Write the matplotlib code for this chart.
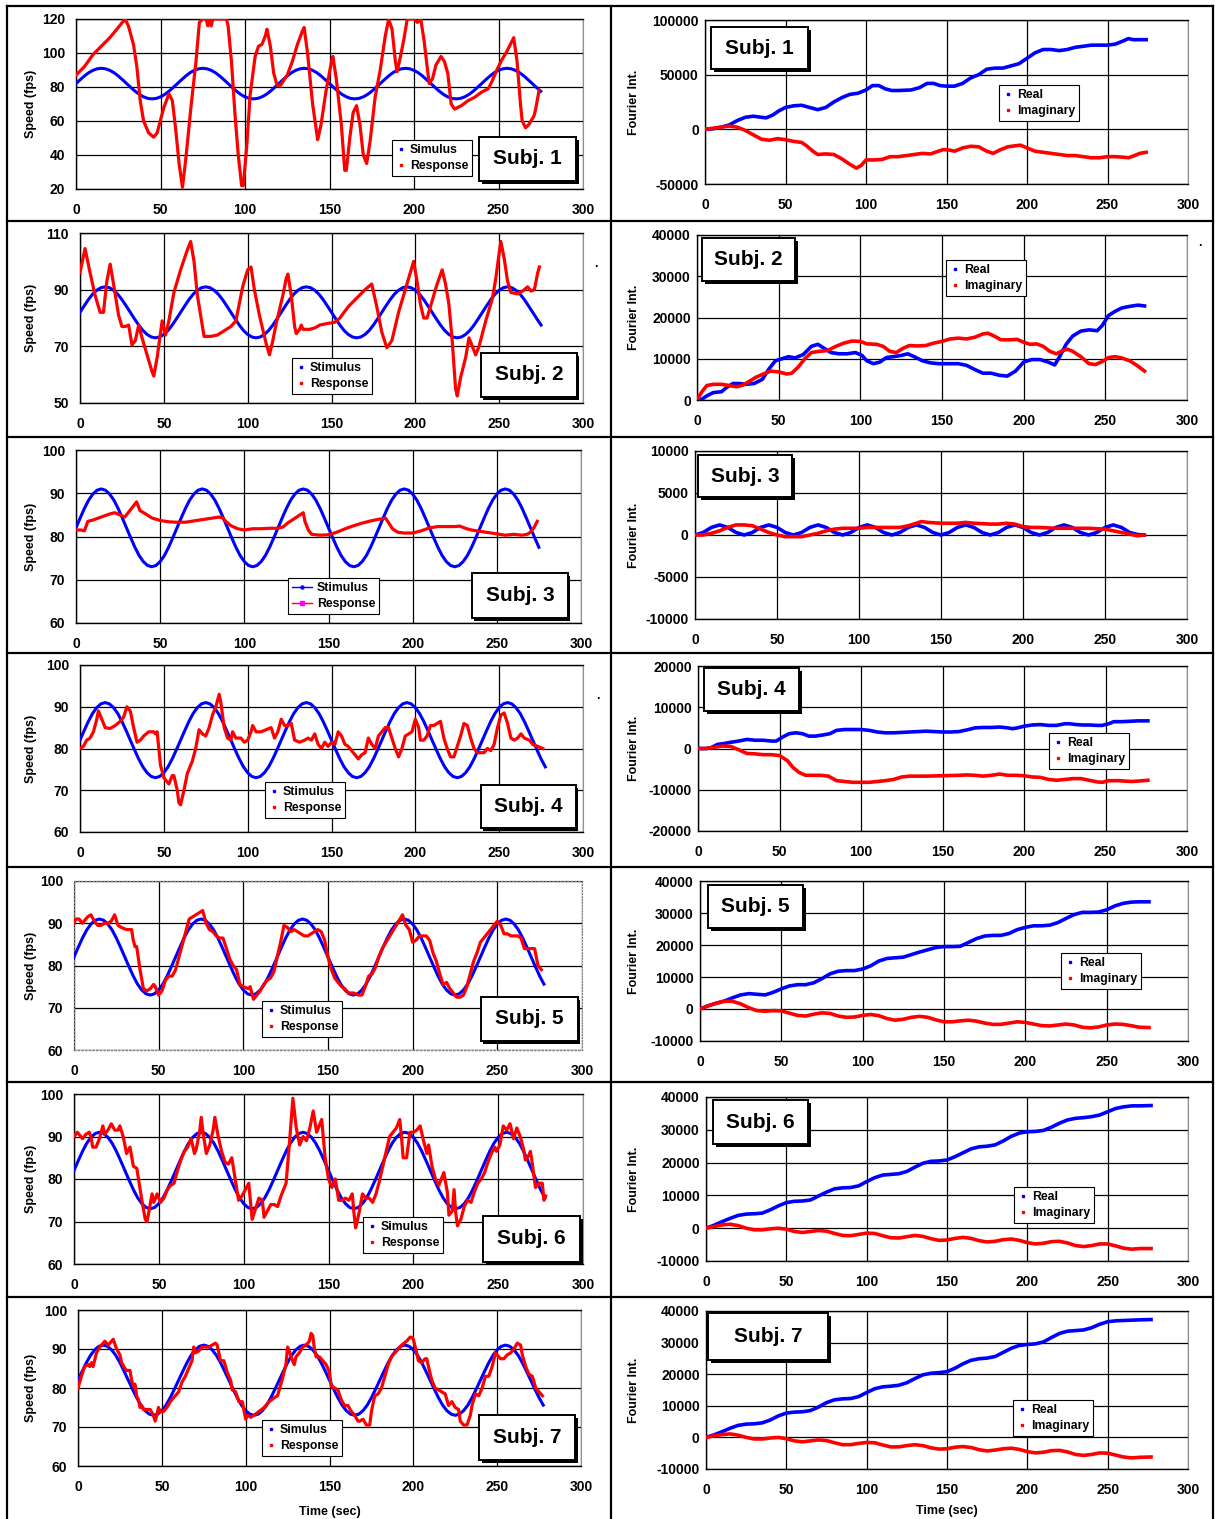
import matplotlib
matplotlib.use("Agg")
import matplotlib.pyplot as plt
from matplotlib.lines import Line2D
from matplotlib.patches import Rectangle

plt.rcParams['font.family'] = ['Liberation Sans', 'DejaVu Sans']
plt.rcParams['font.weight'] = 'bold'
plt.rcParams['axes.labelweight'] = 'bold'

W, H = 1215, 1519

# ---------------- data ----------------
# stimulus speed (fps), one sample every 2.5 s, same for every subject
STIM_T = [i * 2.5 for i in range(112)]
STIM_V = [
    82.0, 84.3, 86.5, 88.4, 89.8, 90.7, 91.0, 90.7, 89.8, 88.4, 86.5, 84.3,
    82.0, 79.7, 77.5, 75.6, 74.2, 73.3, 73.0, 73.3, 74.2, 75.6, 77.5, 79.7,
    82.0, 84.3, 86.5, 88.4, 89.8, 90.7, 91.0, 90.7, 89.8, 88.4, 86.5, 84.3,
    82.0, 79.7, 77.5, 75.6, 74.2, 73.3, 73.0, 73.3, 74.2, 75.6, 77.5, 79.7,
    82.0, 84.3, 86.5, 88.4, 89.8, 90.7, 91.0, 90.7, 89.8, 88.4, 86.5, 84.3,
    82.0, 79.7, 77.5, 75.6, 74.2, 73.3, 73.0, 73.3, 74.2, 75.6, 77.5, 79.7,
    82.0, 84.3, 86.5, 88.4, 89.8, 90.7, 91.0, 90.7, 89.8, 88.4, 86.5, 84.3,
    82.0, 79.7, 77.5, 75.6, 74.2, 73.3, 73.0, 73.3, 74.2, 75.6, 77.5, 79.7,
    82.0, 84.3, 86.5, 88.4, 89.8, 90.7, 91.0, 90.7, 89.8, 88.4, 86.5, 84.3,
    82.0, 79.7, 77.5, 75.6,
]
STIM_END = [275, 275, 275, 277.5, 277.5, 277.5, 277.5]

# subject responses (time, speed)
RESP_1 = [(0, 87), (5, 92), (10, 99), (15, 104), (20, 109), (25, 115), (29, 120), (31, 116), (34, 105),
          (36, 92), (38, 72), (40, 60), (43, 53), (46, 50.5), (48, 53), (52, 68), (55, 76), (57, 72),
          (59, 55), (61, 35), (63, 21), (65, 38), (68, 68), (71, 95), (73, 118), (75, 120), (77, 120),
          (78, 116), (79, 120), (80, 116), (81, 120), (84, 120), (89, 120), (90, 116), (92, 95), (94, 65),
          (96, 40), (98, 22), (99, 22), (101, 45), (103, 75), (106, 98), (108, 104), (110, 105), (112, 110),
          (113, 114), (115, 104), (117, 88), (119, 81), (121, 81), (125, 87), (128, 95), (131, 105),
          (134, 113), (135, 115), (137, 100), (140, 70), (143, 49), (145, 58), (148, 78), (151, 94),
          (152, 98), (154, 85), (157, 58), (159, 31), (160, 31), (162, 50), (164, 65), (166, 69), (168, 58),
          (170, 40), (172, 35), (174, 48), (177, 74), (180, 90), (183, 110), (185, 120), (187, 114),
          (189, 95), (190, 89), (192, 98), (194, 108), (196, 120), (200, 120), (202, 118), (204, 120),
          (206, 107), (208, 90), (209, 82), (211, 85), (213, 93), (216, 98), (218, 95), (220, 88), (222, 70),
          (224, 67), (228, 69), (232, 72), (236, 74), (240, 77), (244, 79), (246, 83), (249, 90), (252, 96),
          (255, 101), (258, 107), (259, 109), (261, 95), (263, 70), (264, 60), (266, 56), (268, 58),
          (271, 63), (272, 67), (274, 78)]
RESP_2 = [(0, 96), (3, 104.5), (6, 96), (9, 88), (12, 82), (14, 82), (16, 93), (18, 99), (20, 92), (23, 81),
          (25, 77), (27, 77), (29, 77.5), (31, 70.5), (33, 72), (35, 77.5), (37, 73), (40, 67), (43, 61),
          (44, 59.5), (46, 66), (49, 79), (51, 74), (53, 79), (56, 89), (60, 97), (64, 104), (66, 107),
          (68, 100), (70, 88), (74, 73.5), (78, 73.5), (82, 74), (86, 75.5), (90, 77), (93, 79), (97, 91),
          (100, 97), (102, 98), (104, 90), (107, 81), (111, 71), (113, 67), (115, 72), (117, 78), (121, 88),
          (123, 94), (124, 95.5), (126, 88), (128, 77), (129, 74.5), (131, 76), (132, 77.5), (133, 76),
          (137, 76), (140, 76.5), (143, 77.5), (147, 78), (152, 78.5), (155, 80), (160, 84), (165, 87),
          (170, 90), (174, 92), (177, 84), (180, 75), (183, 69.5), (186, 72), (190, 82), (194, 90), (198, 98),
          (199, 100), (201, 93), (203, 85), (205, 80), (207, 80), (210, 86), (213, 92), (216, 97), (218, 92),
          (220, 85), (222, 72), (224, 55), (225, 52.5), (227, 59), (230, 66), (232, 73), (234, 70), (236, 67),
          (238, 70), (242, 79), (246, 87), (248, 94), (250, 103), (251, 107), (253, 101), (255, 93), (257, 89),
          (261, 88.5), (264, 89.5), (267, 91), (269, 89.5), (271, 90), (273, 96), (274, 98)]
RESP_3 = [(0, 81.5), (3, 81.5), (5, 81.3), (7, 83.5), (10, 83.8), (15, 84.5), (20, 85.2), (23, 85.5),
          (26, 85), (29, 84.5), (31, 85.5), (34, 87), (36, 88), (38, 86), (41, 85.3), (45, 84.3), (50, 83.7),
          (55, 83.4), (60, 83.3), (65, 83.3), (70, 83.6), (75, 83.9), (80, 84.2), (85, 84.5), (87, 84.3),
          (89, 83.5), (92, 82.5), (96, 81.8), (100, 81.5), (105, 81.8), (110, 81.8), (115, 81.9), (120, 81.9),
          (123, 82.2), (126, 83.2), (130, 84.2), (133, 85), (135, 85.5), (136, 83.5), (138, 81.5), (140, 80.5),
          (145, 80.3), (150, 80.4), (155, 81), (160, 81.8), (165, 82.5), (170, 83.1), (175, 83.6), (180, 84),
          (184, 84.2), (186, 83), (188, 81.8), (191, 81), (195, 80.8), (200, 80.8), (205, 81.3), (210, 82),
          (215, 82.3), (220, 82.3), (225, 82.3), (228, 82.4), (232, 81.8), (235, 81.5), (240, 81.2),
          (245, 80.9), (250, 80.6), (255, 80.3), (260, 80.5), (265, 80.3), (268, 80.5), (270, 81), (272, 82),
          (274, 83.5)]
RESP_4 = [(0, 80), (2, 80.5), (4, 82), (6, 82.5), (8, 84), (10, 87), (11, 89), (13, 87), (15, 85), (18, 84.8),
          (21, 85.5), (24, 86.5), (26, 87.5), (28, 90), (30, 89), (32, 85), (34, 81.5), (36, 82), (38, 83),
          (41, 84), (44, 84), (45, 83.5), (46, 84), (47, 80), (48, 76), (50, 73), (52, 72), (53, 71.5),
          (55, 73.5), (56, 73.5), (58, 70), (59, 67), (60, 66.5), (62, 70), (64, 74), (67, 77), (69, 80),
          (71, 84.5), (73, 83.5), (75, 83), (77, 85), (79, 88), (81, 90), (83, 93), (84, 91), (86, 85),
          (88, 82.5), (90, 82), (91, 84), (93, 82.5), (96, 82.5), (98, 81.5), (100, 82), (102, 84), (103, 85.5),
          (105, 84), (108, 84), (111, 84.5), (114, 85), (116, 82.5), (118, 84), (120, 87), (122, 85.5),
          (124, 85.5), (126, 86), (128, 82), (131, 81.5), (134, 82), (136, 82.5), (138, 82), (140, 83.5),
          (142, 81), (144, 80), (146, 81.5), (148, 80.5), (150, 81.5), (152, 81), (154, 84), (156, 83),
          (158, 81), (160, 80.5), (162, 79.5), (164, 78.5), (166, 77.5), (168, 78.5), (170, 79), (172, 82.5),
          (174, 81), (176, 80), (178, 83), (180, 84), (182, 85), (184, 85), (186, 82.5), (188, 80), (190, 78),
          (192, 80), (194, 83), (196, 83.5), (198, 84), (200, 87), (202, 85), (203, 82), (205, 82), (207, 83),
          (209, 85.5), (211, 85.5), (213, 86), (215, 86.5), (217, 82.5), (219, 80), (221, 78), (223, 78),
          (225, 80.5), (227, 83), (229, 86), (231, 85.5), (233, 82.5), (235, 80), (237, 79), (239, 79),
          (241, 79), (243, 80), (245, 79.5), (247, 81), (249, 85), (251, 88), (253, 88.5), (255, 86),
          (257, 82.5), (259, 82), (261, 82.5), (263, 83.5), (265, 82.5), (268, 82), (270, 81), (273, 80.5),
          (276, 80)]
RESP_5 = [(0, 90), (1, 91), (3, 91), (4, 90.5), (5, 90), (7, 91), (8, 91.5), (10, 92), (12, 90.5), (14, 89.5),
          (16, 89.5), (18, 90), (20, 90), (22, 90.5), (24, 92), (26, 89.5), (28, 89), (31, 88.5), (34, 88.5),
          (35, 86), (36, 84.5), (37, 84.5), (39, 79), (41, 74.5), (43, 74), (45, 74.5), (47, 75.5), (48, 75),
          (50, 73), (52, 74), (54, 76.5), (56, 77.5), (58, 77.5), (60, 79), (62, 82), (64, 85), (66, 88),
          (68, 91), (70, 91.5), (72, 92), (74, 92.5), (76, 93), (78, 90), (80, 88.5), (82, 88), (84, 87),
          (86, 86.5), (88, 86.5), (90, 84), (92, 81.5), (94, 80), (96, 79), (98, 75.5), (100, 75), (103, 74.5),
          (104, 75), (106, 72), (108, 73), (110, 74), (112, 75.5), (114, 76.5), (116, 77), (118, 78.5),
          (120, 82), (122, 85.5), (124, 89.5), (126, 89), (128, 88), (130, 88.5), (132, 88), (134, 87.5),
          (136, 87), (138, 87), (140, 87.5), (142, 88), (144, 88.5), (146, 88), (148, 86), (150, 82), (152, 79),
          (154, 77), (156, 76), (158, 75), (160, 74.5), (162, 73.5), (165, 73.5), (168, 73), (170, 73),
          (172, 75), (174, 77.5), (176, 78), (178, 79.5), (180, 82), (182, 84), (185, 86), (188, 88), (191, 90),
          (194, 92), (196, 89.5), (198, 88.5), (200, 85.5), (202, 86), (204, 87), (206, 87), (208, 87),
          (210, 86), (212, 83), (214, 81), (216, 78), (218, 75.5), (220, 76), (222, 74.5), (224, 73.5),
          (226, 72.5), (228, 72.5), (230, 73), (232, 75), (234, 78), (236, 81), (238, 83), (240, 85.5),
          (242, 86.5), (244, 87.5), (246, 88.5), (248, 89.5), (250, 90.5), (252, 89.5), (254, 87.5),
          (256, 87.5), (258, 87), (262, 87), (264, 86.5), (266, 84), (270, 84), (272, 84), (274, 80), (276, 79)]
RESP_6 = [(0, 90), (2, 91), (4, 90), (5, 89.5), (7, 90.5), (9, 91), (10, 90), (11, 87.5), (13, 87.5),
          (15, 89.5), (17, 92.5), (18, 90.5), (20, 91.5), (22, 93), (24, 91.5), (26, 91.5), (27, 92.5), (29, 90),
          (31, 86), (33, 87.5), (35, 83), (37, 82.5), (38, 80), (40, 75), (42, 70.5), (43, 70), (44, 72),
          (46, 76.5), (47, 74.5), (49, 76.5), (51, 74.5), (53, 75.5), (55, 77.5), (57, 78.5), (59, 79),
          (61, 82), (63, 84.5), (65, 86.5), (67, 87.5), (69, 89.5), (71, 86), (72, 87), (74, 91), (75, 94.5),
          (76, 91), (78, 86), (80, 88), (82, 91.5), (83, 94.5), (85, 90), (87, 86.5), (89, 84), (91, 83.5),
          (93, 85), (95, 80), (97, 75), (99, 76), (101, 77.5), (103, 79), (105, 70.5), (107, 73), (109, 75.5),
          (111, 75), (112, 71), (114, 72.5), (116, 74), (118, 74), (120, 73.5), (122, 76), (125, 79),
          (127, 88.5), (129, 99), (131, 92), (133, 88), (135, 90), (137, 89), (139, 92), (141, 96), (143, 91),
          (145, 93), (146, 94), (148, 85), (150, 80), (152, 78), (154, 80), (156, 75), (158, 75), (160, 75.5),
          (162, 75), (164, 76.5), (165, 72), (166, 68.5), (168, 72), (170, 76.5), (172, 75.5), (174, 75.5),
          (176, 74.5), (178, 76.5), (180, 79.5), (182, 83), (184, 86.5), (186, 90), (188, 91), (190, 92),
          (192, 94), (193, 90), (194, 85), (196, 85), (198, 91), (200, 91), (202, 91.5), (204, 92.5), (206, 89),
          (208, 86), (209, 88), (211, 83), (213, 80), (215, 78.5), (216, 79.5), (218, 81.5), (220, 77),
          (221, 71.5), (223, 72.5), (224, 77.5), (225, 72), (226, 69), (228, 70.5), (230, 73.5), (232, 75),
          (234, 74.5), (236, 77), (238, 79), (240, 80), (242, 81.5), (244, 84), (246, 86), (248, 87.5),
          (249, 86.5), (251, 88), (253, 92.5), (255, 91.5), (257, 93), (259, 89.5), (261, 92), (263, 90),
          (265, 87), (266, 84.5), (268, 85.5), (269, 86.5), (270, 84), (272, 78), (274, 79), (276, 79),
          (277, 75), (278, 76)]
RESP_7 = [(0, 80), (2, 83), (4, 85.5), (6, 86), (7, 85.5), (8, 86.5), (9, 85.5), (11, 89), (13, 90.5),
          (15, 91.5), (16, 92), (17, 91.5), (18, 91), (20, 92), (21, 92.5), (23, 90), (25, 88.5), (26, 86.5),
          (28, 85), (29, 84.5), (31, 84.5), (32, 82), (33, 80.5), (34, 81), (35, 78), (36, 77), (37, 75),
          (38, 75.5), (39, 74.5), (41, 74.5), (43, 74.5), (45, 73), (46, 71.5), (47, 73), (48, 75), (49, 74),
          (51, 74), (53, 75), (55, 76.5), (58, 78), (60, 79), (62, 81.5), (64, 83), (66, 85), (68, 87),
          (69, 90.5), (70, 89), (72, 89.5), (74, 90.5), (76, 90.5), (78, 90.5), (80, 91), (82, 91.5), (83, 91),
          (84, 89), (85, 87), (87, 87), (89, 84), (91, 82), (92, 79.5), (94, 79), (96, 76.5), (98, 76.5),
          (100, 72), (101, 73), (103, 72.5), (105, 73), (108, 74), (111, 75), (114, 76.5), (117, 77.5),
          (119, 78), (120, 79.5), (122, 82.5), (124, 86), (125, 90.5), (126, 89.5), (128, 87), (129, 86),
          (130, 88), (132, 89), (134, 90.5), (136, 91), (138, 92), (139, 94), (140, 93.5), (141, 90), (142, 88),
          (144, 88), (146, 87), (148, 86), (150, 84), (151, 80.5), (153, 80), (155, 79.5), (157, 77),
          (159, 75.5), (161, 75.5), (163, 74), (165, 73), (167, 71.5), (168, 71.5), (170, 72), (172, 70.5),
          (174, 70.5), (175, 74), (177, 78), (179, 78.5), (181, 80), (183, 83), (185, 86), (187, 88),
          (190, 89.5), (193, 91), (196, 92), (198, 93), (199, 93), (200, 92.5), (202, 89), (203, 87),
          (205, 86.5), (207, 87.5), (208, 87.5), (209, 85.5), (211, 82), (213, 80), (215, 79.5), (217, 79),
          (219, 78.5), (221, 75.5), (223, 76.5), (225, 75), (227, 74.5), (228, 71.5), (230, 70.5), (232, 70.5),
          (234, 73), (235, 75.5), (237, 78.5), (239, 78), (241, 80), (243, 83), (245, 83), (247, 85.5),
          (249, 89), (251, 88), (252, 87.5), (254, 87.5), (256, 88.5), (258, 89), (260, 90), (262, 91.5),
          (264, 91), (265, 88.5), (267, 85.5), (269, 83.5), (271, 83), (273, 80), (275, 79), (277, 78)]

# running Fourier integrals (time, value)
REAL_1 = [(0, 0), (5, 500), (10, 2000), (15, 4000), (20, 8000), (25, 11000), (30, 12000), (35, 11000),
          (38, 10500), (42, 13000), (46, 17000), (50, 20000), (55, 21500), (60, 22000), (65, 20000),
          (70, 18000), (75, 20000), (80, 25000), (85, 29000), (90, 32000), (95, 33000), (100, 36000),
          (104, 40000), (108, 40000), (112, 37000), (116, 35500), (120, 35500), (128, 36000), (133, 38000),
          (138, 42000), (142, 42000), (146, 40000), (150, 39500), (155, 39500), (160, 42000), (165, 47000),
          (170, 50000), (175, 55000), (180, 56000), (185, 56000), (190, 58000), (195, 60000), (200, 65000),
          (205, 70000), (210, 73000), (215, 73000), (220, 72000), (225, 73000), (230, 75000), (235, 76000),
          (240, 77000), (245, 77000), (250, 77000), (255, 78000), (260, 81000), (263, 83000), (266, 82000),
          (270, 82000), (274, 82000)]
IMAG_1 = [(0, 0), (5, 1000), (10, 2000), (15, 3000), (20, 2000), (25, -1000), (30, -5000), (35, -9000),
          (40, -10000), (45, -8500), (50, -9500), (55, -11000), (60, -12000), (63, -15000), (67, -20000),
          (70, -23000), (75, -22500), (80, -23000), (85, -27000), (90, -32000), (94, -35500), (97, -33000),
          (100, -28000), (105, -28000), (110, -27500), (115, -25000), (120, -25000), (125, -24000),
          (130, -23000), (135, -22000), (140, -22500), (145, -20000), (148, -18500), (152, -19000),
          (155, -20000), (160, -17000), (165, -15500), (170, -16000), (175, -20000), (179, -22000),
          (183, -19000), (188, -16000), (193, -15000), (196, -14500), (200, -17000), (205, -20000),
          (210, -21000), (215, -22000), (220, -23000), (225, -24000), (230, -24000), (235, -25000),
          (240, -26000), (245, -26000), (250, -25000), (255, -25000), (260, -25500), (263, -26000),
          (266, -24500), (270, -22000), (274, -21000)]
REAL_2 = [(0, 0), (3, 200), (6, 1000), (10, 1800), (15, 2000), (18, 3000), (22, 4000), (26, 4000), (30, 3800),
          (35, 4000), (40, 5000), (44, 7500), (48, 9500), (52, 10000), (56, 10500), (60, 10200), (65, 11000),
          (70, 13000), (74, 13500), (78, 12500), (82, 11500), (87, 11200), (92, 11200), (97, 11500),
          (101, 10800), (104, 9500), (108, 8800), (112, 9200), (116, 10300), (120, 10500), (125, 10800),
          (129, 11200), (133, 10500), (138, 9500), (143, 9000), (148, 8800), (155, 8800), (160, 8800),
          (165, 8400), (170, 7400), (175, 6500), (180, 6500), (185, 6000), (190, 5800), (195, 7000),
          (200, 9200), (205, 9800), (210, 9800), (215, 9200), (219, 8500), (222, 10500), (226, 13500),
          (230, 15500), (235, 16700), (240, 17000), (245, 16800), (248, 18000), (252, 20500), (256, 21500),
          (260, 22300), (265, 22700), (270, 23000), (274, 22800)]
IMAG_2 = [(0, 0), (3, 2000), (6, 3500), (10, 3800), (15, 3800), (20, 3500), (24, 3200), (28, 3600), (32, 4500),
          (36, 5500), (40, 6200), (45, 7000), (50, 6800), (55, 6300), (58, 6500), (62, 8000), (66, 10000),
          (70, 11500), (75, 11800), (80, 12000), (85, 13000), (90, 13800), (95, 14300), (100, 14200),
          (104, 13600), (110, 13500), (114, 13000), (118, 11800), (122, 11500), (126, 12500), (130, 13200),
          (135, 13100), (140, 13200), (145, 13800), (150, 14200), (155, 14800), (160, 15000), (165, 14800),
          (170, 15200), (175, 16000), (178, 16200), (182, 15500), (186, 14600), (192, 14600), (196, 14700),
          (200, 14000), (204, 13500), (208, 13600), (212, 13000), (216, 11800), (220, 11200), (224, 12000),
          (227, 12300), (230, 11800), (235, 10500), (240, 8800), (244, 8600), (248, 9300), (252, 10300),
          (256, 10500), (260, 10200), (265, 9500), (270, 8200), (274, 7000)]
REAL_3 = [(0, 0), (5, 300), (10, 900), (15, 1200), (20, 900), (25, 300), (30, 0), (35, 300), (40, 900),
          (45, 1200), (50, 900), (55, 300), (60, 0), (65, 300), (70, 900), (75, 1200), (80, 900), (85, 300),
          (90, 0), (95, 300), (100, 900), (105, 1200), (110, 900), (115, 300), (120, 0), (125, 300), (130, 900),
          (135, 1200), (140, 900), (145, 300), (150, 0), (155, 300), (160, 900), (165, 1200), (170, 900),
          (175, 300), (180, 0), (185, 300), (190, 900), (195, 1200), (200, 900), (205, 300), (210, 0),
          (215, 300), (220, 900), (225, 1200), (230, 900), (235, 300), (240, 0), (245, 300), (250, 900),
          (255, 1200), (260, 900), (265, 300), (270, 50), (274, 0)]
IMAG_3 = [(0, 0), (5, 0), (10, 200), (15, 500), (20, 900), (25, 1200), (30, 1200), (35, 1100), (40, 700),
          (45, 300), (50, 0), (55, -200), (60, -200), (65, -200), (70, 0), (75, 200), (80, 500), (85, 700),
          (90, 800), (95, 800), (100, 800), (105, 900), (110, 900), (115, 900), (120, 900), (125, 900),
          (130, 1100), (135, 1400), (138, 1600), (142, 1500), (150, 1400), (160, 1400), (165, 1500),
          (170, 1400), (180, 1300), (185, 1300), (190, 1400), (195, 1300), (200, 1000), (205, 900), (210, 900),
          (220, 800), (230, 800), (240, 800), (250, 700), (255, 500), (260, 300), (265, 100), (270, -100),
          (274, 0)]
REAL_4 = [(0, 0), (5, 0), (8, 200), (12, 1000), (16, 1200), (20, 1500), (25, 1800), (30, 2200), (35, 2000),
          (40, 2000), (45, 1800), (48, 1800), (52, 2800), (56, 3600), (60, 3800), (64, 3600), (68, 3000),
          (72, 3000), (77, 3300), (81, 3600), (85, 4400), (90, 4600), (95, 4600), (100, 4600), (105, 4400),
          (110, 4000), (115, 3800), (120, 3800), (125, 3900), (130, 4000), (135, 4100), (140, 4200),
          (145, 4100), (150, 4000), (155, 4000), (160, 4100), (165, 4500), (170, 5000), (175, 5100),
          (180, 5100), (185, 5200), (190, 5000), (193, 4800), (196, 5000), (200, 5400), (205, 5700),
          (210, 5800), (215, 5600), (220, 5600), (225, 6000), (228, 6000), (232, 5800), (236, 5700),
          (240, 5700), (245, 5600), (248, 5600), (252, 6000), (255, 6500), (260, 6500), (265, 6600),
          (270, 6700), (276, 6700)]
IMAG_4 = [(0, 0), (5, 0), (10, 300), (15, 600), (20, 500), (25, -300), (30, -1200), (35, -1300), (40, -1500),
          (45, -1500), (50, -1700), (55, -3000), (58, -4500), (62, -5800), (66, -6500), (70, -6500),
          (75, -6500), (80, -6700), (85, -7800), (90, -8000), (95, -8200), (100, -8200), (105, -8200),
          (110, -8000), (115, -7800), (120, -7500), (125, -6900), (130, -6700), (140, -6700), (150, -6600),
          (160, -6500), (165, -6400), (170, -6500), (175, -6700), (180, -6500), (185, -6200), (190, -6500),
          (195, -6500), (200, -6600), (205, -6900), (210, -7000), (215, -7500), (220, -7700), (225, -7500),
          (230, -7300), (235, -7300), (240, -7700), (245, -8100), (248, -8200), (252, -7800), (258, -7800),
          (262, -7900), (266, -8000), (270, -7900), (276, -7700)]
REAL_5 = [(0, 0), (5, 1000), (10, 1800), (15, 2500), (20, 3500), (25, 4400), (30, 4800), (35, 4600),
          (40, 4400), (45, 5200), (50, 6300), (55, 7200), (60, 7600), (65, 7600), (70, 8200), (75, 9500),
          (80, 11000), (85, 11800), (90, 12000), (95, 12000), (100, 12500), (105, 13500), (110, 15000),
          (115, 15800), (120, 16000), (125, 16200), (130, 17000), (135, 17800), (140, 18500), (145, 19200),
          (150, 19500), (155, 19500), (160, 19600), (165, 20800), (170, 22000), (175, 22800), (180, 23000),
          (185, 23000), (190, 23600), (195, 24800), (200, 25500), (205, 26000), (210, 26000), (215, 26200),
          (220, 27000), (225, 28300), (230, 29500), (235, 30200), (240, 30200), (245, 30300), (250, 31000),
          (255, 32200), (260, 33000), (265, 33400), (270, 33500), (276, 33500)]
IMAG_5 = [(0, 0), (5, 1000), (10, 1800), (15, 2400), (20, 2400), (25, 1600), (30, 400), (35, -500),
          (40, -700), (45, -500), (50, -600), (55, -1300), (60, -2000), (65, -2200), (70, -1600), (75, -1200),
          (80, -1400), (85, -2200), (90, -2600), (95, -2500), (100, -2000), (105, -1700), (110, -2100),
          (115, -3000), (120, -3500), (125, -3200), (130, -2600), (135, -2300), (140, -2600), (145, -3400),
          (150, -4000), (155, -4000), (160, -3700), (165, -3500), (170, -3800), (175, -4400), (180, -4800),
          (185, -4800), (190, -4400), (195, -4000), (200, -4200), (205, -4700), (210, -5200), (215, -5300),
          (220, -5000), (225, -4700), (230, -5000), (235, -5700), (240, -5900), (245, -5600), (250, -5000),
          (255, -4700), (260, -4800), (265, -5200), (270, -5700), (276, -5800)]
REAL_6 = [(0, 0), (5, 900), (10, 2000), (15, 3000), (20, 3900), (25, 4300), (30, 4400), (35, 4600),
          (40, 5600), (45, 6800), (50, 7800), (55, 8200), (60, 8300), (65, 8600), (70, 9800), (75, 11000),
          (80, 12000), (85, 12300), (90, 12400), (95, 12900), (100, 14200), (105, 15400), (110, 16200),
          (115, 16400), (120, 16600), (125, 17300), (130, 18600), (135, 19800), (140, 20400), (145, 20500),
          (150, 20800), (155, 21800), (160, 23000), (165, 24200), (170, 24800), (175, 25000), (180, 25400),
          (185, 26600), (190, 28000), (195, 29000), (200, 29400), (205, 29500), (210, 29800), (215, 30800),
          (220, 32000), (225, 33000), (230, 33500), (235, 33700), (240, 34000), (245, 34500), (250, 35500),
          (255, 36500), (260, 37000), (265, 37300), (270, 37300), (277, 37400)]
IMAG_6 = [(0, 0), (5, 500), (10, 1000), (15, 1200), (20, 800), (25, 0), (30, -500), (35, -500), (40, -200),
          (45, 0), (50, -300), (55, -1000), (60, -1300), (65, -1000), (70, -700), (75, -900), (80, -1600),
          (85, -2200), (90, -2300), (95, -1900), (100, -1500), (105, -1600), (110, -2300), (115, -2900),
          (120, -3000), (125, -2600), (130, -2200), (135, -2500), (140, -3200), (145, -3700), (150, -3600),
          (155, -3100), (160, -2800), (165, -3100), (170, -3800), (175, -4200), (180, -4000), (185, -3500),
          (190, -3300), (195, -3700), (200, -4400), (205, -4800), (210, -4600), (215, -4100), (220, -4000),
          (225, -4500), (230, -5300), (235, -5600), (240, -5300), (245, -4800), (250, -4800), (255, -5400),
          (260, -6100), (265, -6400), (270, -6200), (277, -6200)]
REAL_7 = [(0, 0), (5, 800), (10, 1800), (15, 2900), (20, 3800), (25, 4200), (30, 4300), (35, 4600),
          (40, 5500), (45, 6800), (50, 7700), (55, 8000), (60, 8100), (65, 8500), (70, 9600), (75, 11000),
          (80, 11900), (85, 12200), (90, 12300), (95, 12900), (100, 14200), (105, 15400), (110, 16000),
          (115, 16200), (120, 16500), (125, 17300), (130, 18600), (135, 19800), (140, 20300), (145, 20500),
          (150, 20800), (155, 21900), (160, 23300), (165, 24400), (170, 24900), (175, 25100), (180, 25600),
          (185, 26900), (190, 28200), (195, 29100), (200, 29400), (205, 29600), (210, 30200), (215, 31600),
          (220, 32900), (225, 33600), (230, 33800), (235, 34000), (240, 34700), (245, 35800), (250, 36600),
          (255, 36900), (260, 37000), (265, 37100), (270, 37200), (277, 37300)]
IMAG_7 = [(0, 0), (5, 500), (10, 900), (15, 1100), (20, 700), (25, 0), (30, -500), (35, -500), (40, -200),
          (45, 0), (50, -400), (55, -1100), (60, -1400), (65, -1100), (70, -800), (75, -1000), (80, -1700),
          (85, -2300), (90, -2300), (95, -1900), (100, -1600), (105, -1700), (110, -2400), (115, -3000),
          (120, -3000), (125, -2600), (130, -2300), (135, -2600), (140, -3300), (145, -3700), (150, -3600),
          (155, -3100), (160, -2900), (165, -3200), (170, -3900), (175, -4300), (180, -4000), (185, -3600),
          (190, -3400), (195, -3800), (200, -4500), (205, -4900), (210, -4700), (215, -4200), (220, -4100),
          (225, -4600), (230, -5400), (235, -5700), (240, -5400), (245, -4900), (250, -5000), (255, -5600),
          (260, -6200), (265, -6500), (270, -6300), (277, -6200)]

RESPONSES = [RESP_1, RESP_2, RESP_3, RESP_4, RESP_5, RESP_6, RESP_7]
REALS = [REAL_1, REAL_2, REAL_3, REAL_4, REAL_5, REAL_6, REAL_7]
IMAGS = [IMAG_1, IMAG_2, IMAG_3, IMAG_4, IMAG_5, IMAG_6, IMAG_7]

SUBJ_LABELS = ["Subj. 1", "Subj. 2", "Subj. 3", "Subj. 4", "Subj. 5", "Subj. 6", "Subj. 7"]
STIM_NAMES = ["Simulus", "Stimulus", "Stimulus", "Stimulus", "Stimulus", "Simulus", "Simulus"]

SPEED_TICKS = [[20, 40, 60, 80, 100, 120], [50, 70, 90, 110], [60, 70, 80, 90, 100],
               [60, 70, 80, 90, 100], [60, 70, 80, 90, 100], [60, 70, 80, 90, 100], [60, 70, 80, 90, 100]]
FOURIER_TICKS = [[-50000, 0, 50000, 100000], [0, 10000, 20000, 30000, 40000],
                 [-10000, -5000, 0, 5000, 10000], [-20000, -10000, 0, 10000, 20000],
                 [-10000, 0, 10000, 20000, 30000, 40000], [-10000, 0, 10000, 20000, 30000, 40000],
                 [-10000, 0, 10000, 20000, 30000, 40000]]

# ---------------- layout (pixels in the 1215x1519 image) ----------------
LEFT_AX = [(76, 583, 19, 189), (80, 583, 233, 403), (76, 581, 450, 623), (80, 583, 665, 832),
           (74, 582, 881, 1050), (74, 583, 1094, 1264), (78, 581, 1310, 1466)]
RIGHT_AX = [(705, 1188, 20, 184), (697, 1187, 235, 400), (695, 1187, 451, 619), (698, 1187, 666, 831),
            (700, 1188, 881, 1041), (706, 1188, 1097, 1261), (706, 1188, 1311, 1469)]
LEFT_BOX = [(479, 137, 97, 44), (481, 353, 96, 44), (472, 573, 96, 45), (481, 785, 95, 43),
            (481, 997, 97, 44), (483, 1216, 97, 46), (479, 1415, 96, 45)]
RIGHT_BOX = [(711, 27, 97, 42), (702, 238, 93, 43), (698, 455, 94, 42), (704, 668, 95, 43),
             (708, 885, 95, 43), (713, 1100, 95, 44), (708, 1313, 120, 47)]
LEFT_LEG = [(392, 140), (292, 358), (288, 578), (265, 782), (262, 1001), (363, 1217), (262, 1420)]
RIGHT_LEG = [(999, 85), (946, 260), None, (1049, 733), (1061, 953), (1014, 1187), (1013, 1400)]
ROW_LINES = [6, 221, 437, 653, 867, 1082, 1297]

BLUE, RED = '#0000FF', '#FF0000'

fig = plt.figure(figsize=(W / 100, H / 100), dpi=100)


def px_axes(x0, x1, yt, yb):
    return fig.add_axes([x0 / W, 1 - yb / H, (x1 - x0) / W, (yb - yt) / H])


def style_axes(ax, ticks, ypad, label, label_x, box):
    ax.set_xlim(0, 300)
    ax.set_xticks(range(0, 301, 50))
    ax.set_ylim(ticks[0], ticks[-1])
    ax.set_yticks(ticks)
    ax.set_yticklabels([str(v) for v in ticks])
    ax.grid(True, color='black', lw=0.9)
    ax.set_axisbelow(True)
    ax.tick_params(axis='both', length=0, labelsize=10)
    ax.tick_params(axis='x', pad=10)
    ax.tick_params(axis='y', pad=ypad)
    for side in ['left', 'bottom', 'top']:
        ax.spines[side].set_color('black')
        ax.spines[side].set_linewidth(1.0)
    ax.spines['right'].set_color('#909090')
    ax.set_ylabel(label, fontsize=9)
    ax.yaxis.label.set_verticalalignment('center')
    x0, x1 = box[0], box[1]
    ax.yaxis.set_label_coords((label_x - x0) / (x1 - x0), 0.5)


def subj_box(x, y, w, h, text):
    fx, fy = x / W, 1 - (y + h) / H
    shadow = Rectangle((fx + 2.5 / W, fy - 2.5 / H), w / W, h / H, transform=fig.transFigure,
                       facecolor='black', edgecolor='black', lw=0, zorder=20)
    rect = Rectangle((fx, fy), w / W, h / H, transform=fig.transFigure,
                     facecolor='white', edgecolor='black', lw=1.4, zorder=21)
    fig.add_artist(shadow)
    fig.add_artist(rect)
    fig.text((x + w / 2) / W, 1 - (y + h / 2) / H, text, ha='center', va='center',
             fontsize=15, fontweight='bold', zorder=22)


def legend(ax, pos, labels, with_line=False):
    if with_line:
        handles = [Line2D([], [], color=BLUE, lw=1, marker='o', ms=2.2),
                   Line2D([], [], color=RED, lw=1, marker='s', ms=2.2, mfc='#FF00FF', mec='#FF00FF')]
        hl = 1.6
    else:
        handles = [Line2D([], [], color=BLUE, ls='none', marker='s', ms=1.7),
                   Line2D([], [], color=RED, ls='none', marker='s', ms=1.7)]
        hl = 0.7
    leg = ax.legend(handles, labels, loc='upper left', bbox_to_anchor=(pos[0] / W, 1 - pos[1] / H),
                    bbox_transform=fig.transFigure, borderaxespad=0, fontsize=8.8, handlelength=hl,
                    handletextpad=0.4, borderpad=0.35, labelspacing=0.3, fancybox=False,
                    framealpha=1, edgecolor='black')
    leg.get_frame().set_linewidth(0.8)
    leg.set_zorder(30)


for i in range(7):
    # speed panel
    lb = LEFT_AX[i]
    ax = px_axes(*lb)
    st = [t for t in STIM_T if t <= STIM_END[i]]
    ax.plot(st, STIM_V[:len(st)], color=BLUE, lw=2.2, zorder=3)
    rt, rv = zip(*RESPONSES[i])
    ax.plot(rt, rv, color=RED, lw=2.3, zorder=4)
    style_axes(ax, SPEED_TICKS[i], 8, 'Speed (fps)', 31, lb)
    legend(ax, LEFT_LEG[i], [STIM_NAMES[i], 'Response'], with_line=(i == 2))
    if i == 4:
        for side in ['left', 'bottom', 'top', 'right']:
            ax.spines[side].set_color('#808080')
            ax.spines[side].set_linestyle(':')
    if i == 6:
        ax.set_xlabel('Time (sec)', fontsize=9, labelpad=9)

    # Fourier panel
    rb = RIGHT_AX[i]
    ax2 = px_axes(*rb)
    t1, v1 = zip(*REALS[i])
    t2, v2 = zip(*IMAGS[i])
    ax2.plot(t1, v1, color=BLUE, lw=2.6, zorder=3)
    ax2.plot(t2, v2, color=RED, lw=2.6, zorder=4)
    style_axes(ax2, FOURIER_TICKS[i], 4.5, 'Fourier Int.', 634, rb)
    if RIGHT_LEG[i] is not None:
        legend(ax2, RIGHT_LEG[i], ['Real', 'Imaginary'])
    if i == 6:
        ax2.set_xlabel('Time (sec)', fontsize=9, labelpad=6)

    subj_box(*LEFT_BOX[i], SUBJ_LABELS[i])
    subj_box(*RIGHT_BOX[i], SUBJ_LABELS[i])

# table rules around the panels
for y in ROW_LINES:
    fig.add_artist(Line2D([7 / W, 1213 / W], [1 - y / H, 1 - y / H], transform=fig.transFigure,
                          color='black', lw=1.6))
for x in [7, 611, 1213]:
    fig.add_artist(Line2D([x / W, x / W], [1 - 6 / H, 0], transform=fig.transFigure,
                          color='black', lw=1.6))

# small stray marks present in the scanned page
for sx, sy in [(596, 264), (1200, 243), (598, 696)]:
    fig.text(sx / W, 1 - sy / H, '.', fontsize=9, ha='center', va='center')

fig.savefig('out.png', dpi=100)
